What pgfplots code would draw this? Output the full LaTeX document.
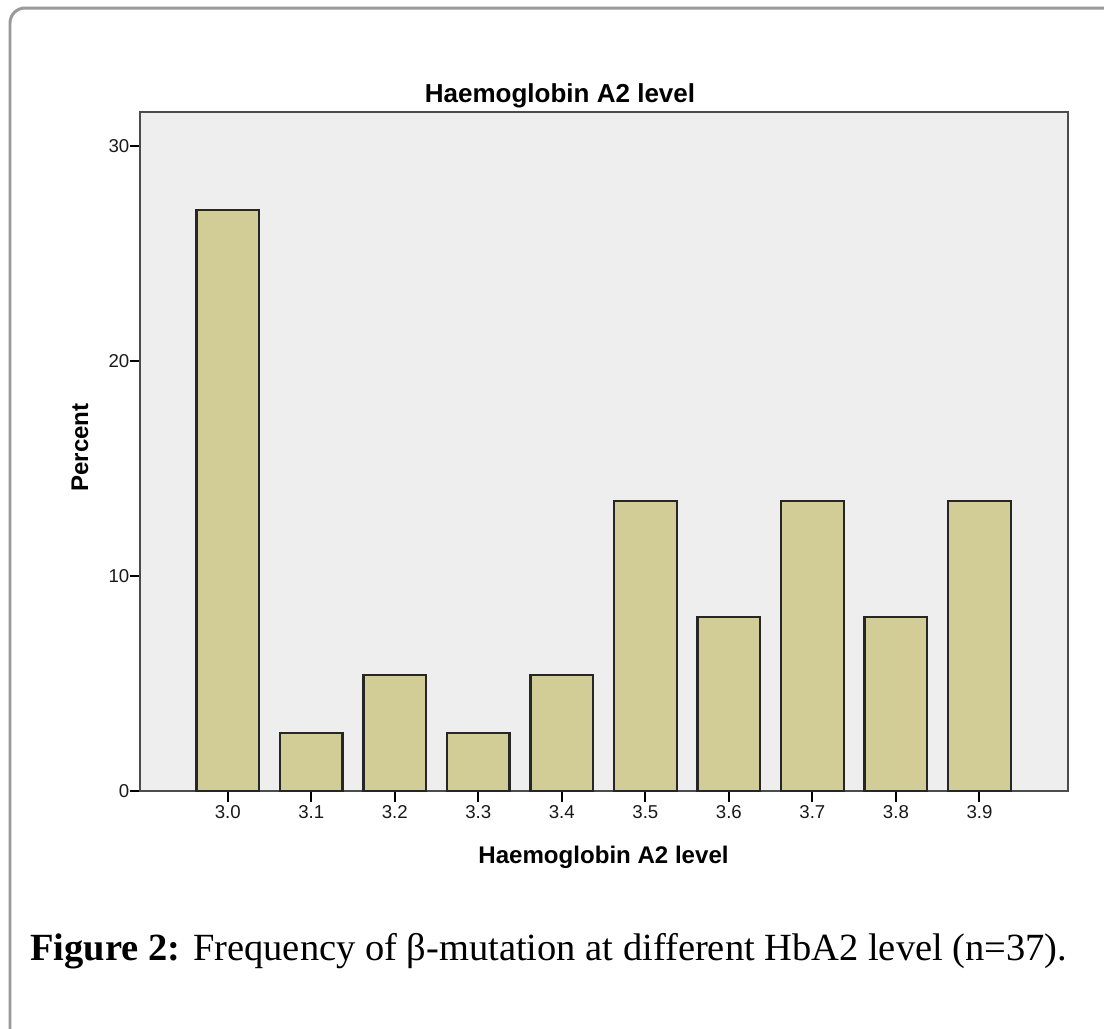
\documentclass[border=0pt]{standalone}
\usepackage{fontspec}
\setmainfont{Liberation Serif}
\newfontfamily\arial{Liberation Sans}
\usepackage{pgfplots}
\pgfplotsset{compat=1.18}
\definecolor{barfill}{HTML}{D2CD96}
\definecolor{plotbg}{HTML}{EEEEEE}
\definecolor{framegray}{HTML}{9A9A9A}
\begin{document}
\begin{tikzpicture}
\path[use as bounding box] (0,0) rectangle (22.08,-20.58);
\draw[framegray, line width=0.06cm, rounded corners=0.3cm] (0.2,-0.16) rectangle (23.5,-22);
\begin{axis}[
  at={(2.8cm,-15.82cm)}, anchor=south west,
  scale only axis, width=18.56cm, height=13.58cm,
  xmin=-1.05, xmax=10.06, ymin=0, ymax=31.6,
  ybar, bar width=0.75,
  axis background/.style={fill=plotbg},
  axis line style={draw=black!70, line width=0.04cm},
  xtick={0,...,9},
  xticklabels={3.0,3.1,3.2,3.3,3.4,3.5,3.6,3.7,3.8,3.9},
  ytick={0,10,20,30},
  xtick pos=bottom, ytick pos=left,
  tick align=outside, major tick length=0.21cm,
  tick style={black, line width=0.04cm},
  ticklabel style={font=\arial\fontsize{10.6}{12}\selectfont, text=black!90},
  /pgf/number format/assume math mode=true,
  yticklabel style={xshift=0.12cm},
  xticklabel style={yshift=0.05cm},
]
\addplot[fill=barfill, draw=black!85, line width=0.045cm] coordinates {
 (0,27.03) (1,2.70) (2,5.41) (3,2.70) (4,5.41) (5,13.51) (6,8.11) (7,13.51) (8,8.11) (9,13.51)};
\end{axis}
\node[anchor=base, font=\arial\bfseries\fontsize{14.8}{17}\selectfont] at (11.2,-2.04) {Haemoglobin A2 level};
\node[anchor=base, font=\arial\bfseries\fontsize{13.7}{16}\selectfont] at (12.07,-17.26) {Haemoglobin A2 level};
\node[anchor=base, rotate=90, font=\arial\bfseries\fontsize{13.7}{16}\selectfont] at (1.76,-8.95) {Percent};
\node[anchor=base west, inner sep=0pt, font=\fontsize{21.9}{25}\selectfont] at (0.6,-19.2) {\textbf{Figure 2:} Frequency of β-mutation at different HbA2 level (n=37).};
\end{tikzpicture}
\end{document}
